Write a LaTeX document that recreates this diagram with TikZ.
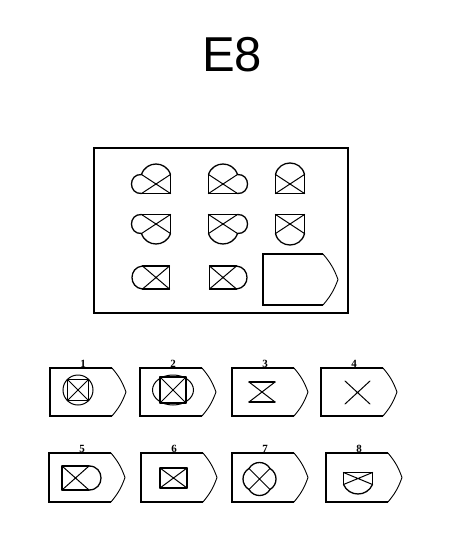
\documentclass[tikz,border=0pt]{standalone}
\usepackage{fontspec}
\setmainfont{Liberation Sans}
\newfontfamily\numfont{Liberation Serif}
\usetikzlibrary{calc}
\tikzset{
  fig/.style={line width=1.3pt, line cap=round, line join=round},
  xl/.style={line width=1.0pt, line cap=round},
  boxl/.style={line width=1.5pt, line join=miter},
  bevel/.style={line width=0.9pt},
  num/.style={font=\numfont\bfseries\fontsize{11}{11}\selectfont, inner sep=0.6pt},
}
% circular arc side from A to B: half chord #3, bulge #4
\newcommand\arcside[4]{%
  \pgfmathsetmacro\myff{#4/#3}%
  \pgfmathsetmacro\myph{2*atan(\myff)}%
  \pgfmathsetmacro\myrr{#3/sin(\myph)}%
  \pgfmathsetmacro\mykk{4/3*\myff*\myrr}%
  \draw[fig] (#1) .. controls ($(#1)!{\mykk pt}!\myph:(#2)$) and ($(#2)!{\mykk pt}!-\myph:(#1)$) .. (#2);%
}
% cx cy hw hh, then bulges T R B L (0 = straight side)
\newcommand\rfig[8]{%
  \coordinate (tl) at ({#1-#3},{#2-#4});
  \coordinate (tr) at ({#1+#3},{#2-#4});
  \coordinate (br) at ({#1+#3},{#2+#4});
  \coordinate (bl) at ({#1-#3},{#2+#4});
  \ifdim#5pt>0pt \arcside{tl}{tr}{#3}{#5}\else\draw[fig] (tl) -- (tr);\fi
  \ifdim#6pt>0pt \arcside{tr}{br}{#4}{#6}\else\draw[fig] (tr) -- (br);\fi
  \ifdim#7pt>0pt \arcside{br}{bl}{#3}{#7}\else\draw[fig] (br) -- (bl);\fi
  \ifdim#8pt>0pt \arcside{bl}{tl}{#4}{#8}\else\draw[fig] (bl) -- (tl);\fi
  \draw[xl] (tl) -- (br) (tr) -- (bl);
}
% left top bottom label
\newcommand\abox[4]{%
  \draw[boxl] ({#1+62},#2) -- (#1,#2) -- (#1,#3) -- ({#1+62},#3);
  \draw[bevel] ({#1+62},#2) to[bend left=10] ({#1+76},{(#2+#3)/2}) to[bend left=10] ({#1+62},#3);
  \node[num, anchor=south] at ({#1+33},#2) {#4};
}
\begin{document}
\begin{tikzpicture}[x=1pt,y=-1pt]
\useasboundingbox (0,0) rectangle (454,557);
\node[font=\fontsize{49}{49}\selectfont, inner sep=0pt] (title) at (232,55) {E8};
% matrix frame
\draw[line width=1.3pt] (94,148) rectangle (348,313);
% row 1
\rfig{156}{184}{14.5}{9.5}{10.5}{0}{0}{10}
\rfig{223}{184}{14.5}{9.5}{10.5}{10}{0}{0}
\rfig{290}{184}{14.5}{9.5}{11.5}{0}{0}{0}
% row 2
\rfig{156}{224}{14.5}{9.5}{0}{0}{10.5}{10}
\rfig{223}{224}{14.5}{9.5}{0}{10}{10.5}{0}
\rfig{290}{224}{14.5}{9.5}{0}{0}{11.5}{0}
% row 3
\rfig{156}{277.5}{13.5}{11.5}{0}{0}{0}{10.5}
\rfig{223}{277.5}{13.5}{11.5}{0}{10.5}{0}{0}
% empty slot
\draw[line width=1.2pt] (323,254) -- (263,254) -- (263,305) -- (323,305);
\draw[bevel] (323,254) to[bend left=10] (338,279.5) to[bend left=10] (323,305);
% answer boxes
\abox{50}{368}{416}{1}
\abox{140}{368}{416}{2}
\abox{232}{368}{416}{3}
\abox{321}{368}{416}{4}
\abox{49}{453}{502}{5}
\abox{141}{453}{502}{6}
\abox{232}{453}{502}{7}
\abox{326}{453}{502}{8}
% option 1
\draw[xl] (78,390) circle[radius=15pt];
\draw[xl] (67.5,379.5) -- (67.5,400.5) (88.5,379.5) -- (88.5,400.5);
\draw[fig] (67.5,379.5) -- (88.5,379.5) (67.5,400.5) -- (88.5,400.5);
\draw[xl] (67.5,379.5) -- (88.5,400.5) (88.5,379.5) -- (67.5,400.5);
% option 2
\draw[xl] (173,390) ellipse[x radius=20.5pt, y radius=15pt];
\draw[fig] (160,377) rectangle (186,403);
\draw[xl] (160,377) -- (186,403) (186,377) -- (160,403);
% option 3
\draw[fig] (249,382) -- (275,382) (249,402) -- (275,402);
\draw[xl] (249,382) -- (275,402) (275,382) -- (249,402);
% option 4
\draw[xl] (345,381) -- (370,404) (345,404) -- (370,381);
% option 5
\rfig{75.5}{478}{13.5}{12}{0}{12}{0}{0}
% option 6
\rfig{173.5}{478}{13.5}{10}{0}{0}{0}{0}
% option 7
\rfig{259.5}{479}{10.5}{10.5}{6}{6}{6}{6}
% option 8
\rfig{358}{478.5}{14.5}{6}{0}{0}{9.5}{0}
\end{tikzpicture}
\end{document}
